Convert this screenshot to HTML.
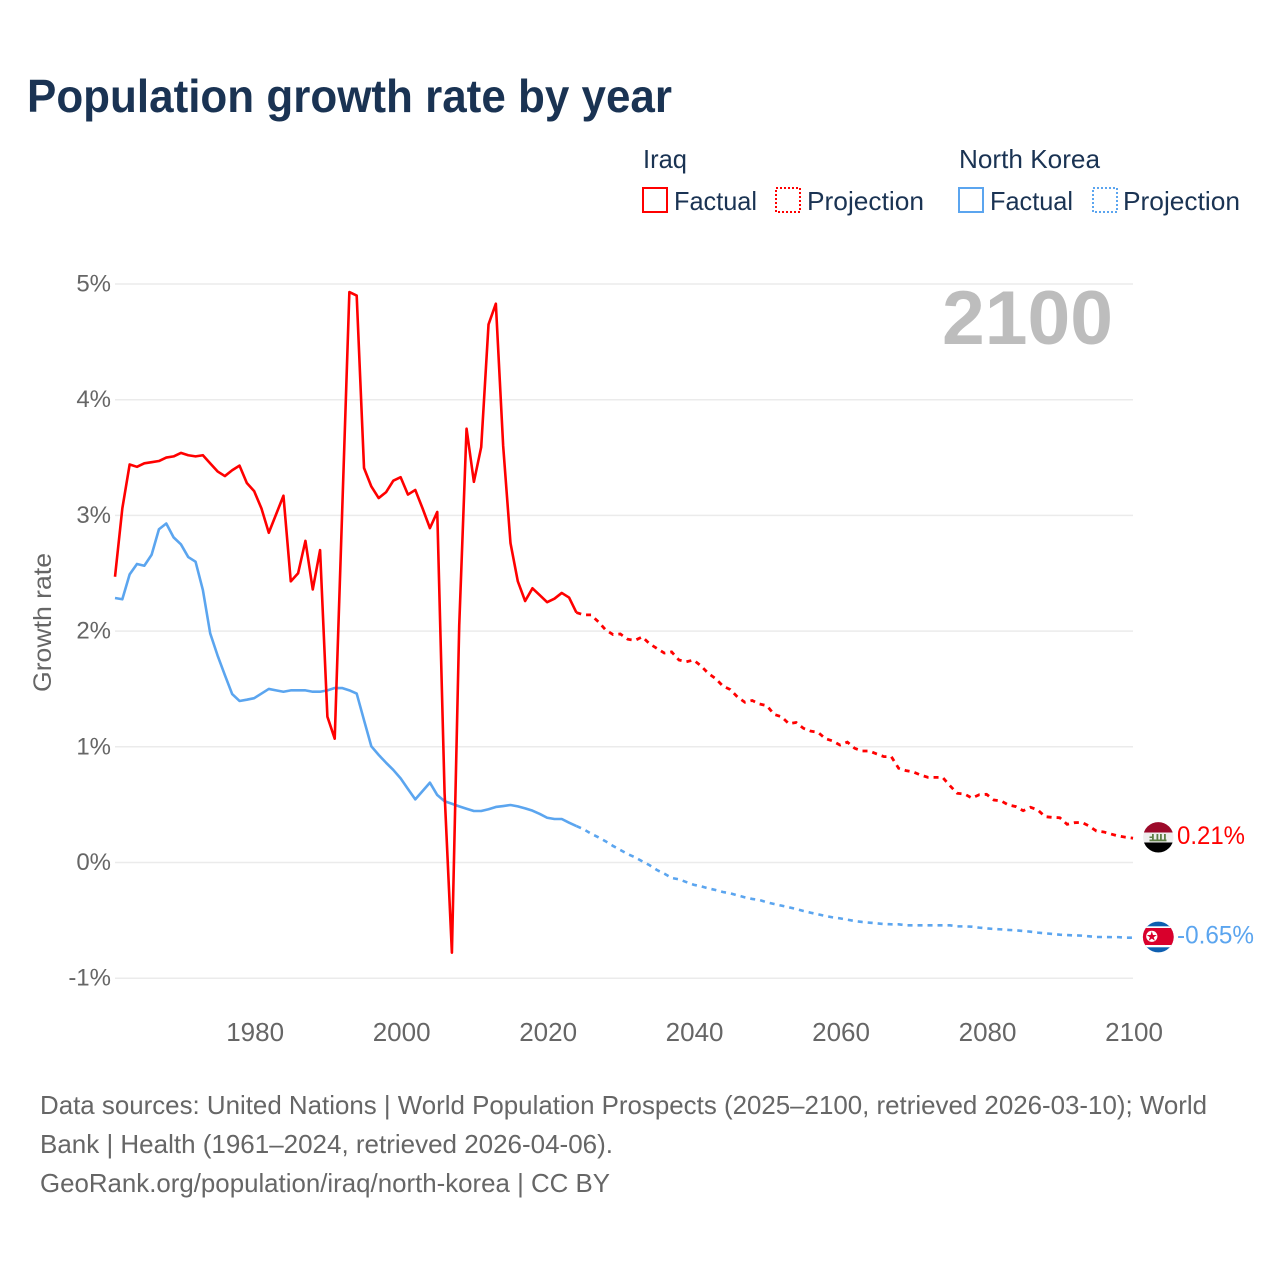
<!DOCTYPE html>
<html lang="en">
<head>
<meta charset="utf-8">
<title>Population growth rate by year</title>
<style>
  html, body { margin: 0; padding: 0; background: #fff; }
  svg { display: block; }
  text { font-family: "Liberation Sans", sans-serif; }
</style>
</head>
<body>
<svg id="chart" xmlns="http://www.w3.org/2000/svg" width="1280" height="1280" viewBox="0 0 1280 1280">
  <rect width="1280" height="1280" fill="#ffffff"/>
  <text x="27" y="112" font-size="46" font-weight="700" fill="#1a3353" textLength="645" lengthAdjust="spacingAndGlyphs">Population growth rate by year</text>

  <g font-size="26" fill="#1a3353">
    <text x="643" y="168" textLength="44" lengthAdjust="spacingAndGlyphs">Iraq</text>
    <text x="959" y="168" textLength="141" lengthAdjust="spacingAndGlyphs">North Korea</text>
    <g>
      <rect x="643" y="188" width="24" height="24" fill="none" stroke="#ff0000" stroke-width="2"/>
      <text x="674" y="210" textLength="83" lengthAdjust="spacingAndGlyphs">Factual</text>
    </g>
    <g>
      <rect x="776" y="188" width="24" height="24" fill="none" stroke="#ff0000" stroke-width="2" stroke-dasharray="2 2"/>
      <text x="807" y="210" textLength="117" lengthAdjust="spacingAndGlyphs">Projection</text>
    </g>
    <g>
      <rect x="959" y="188" width="24" height="24" fill="none" stroke="#5ba5ef" stroke-width="2"/>
      <text x="990" y="210" textLength="83" lengthAdjust="spacingAndGlyphs">Factual</text>
    </g>
    <g>
      <rect x="1093" y="188" width="24" height="24" fill="none" stroke="#5ba5ef" stroke-width="2" stroke-dasharray="2 2"/>
      <text x="1123" y="210" textLength="117" lengthAdjust="spacingAndGlyphs">Projection</text>
    </g>
  </g>

  <g id="grid"></g>
  <g id="yTicksGroup"></g>
  <g id="xTicksGroup"></g>

  <text transform="translate(51,622.5) rotate(-90)" text-anchor="middle" font-size="25" fill="#666666" textLength="139" lengthAdjust="spacingAndGlyphs">Growth rate</text>
  <text x="942" y="344" font-size="76" font-weight="700" fill="#bdbdbd" textLength="171" lengthAdjust="spacingAndGlyphs">2100</text>

  <g id="series"></g>

  <defs>
    <clipPath id="clip-iraq"><circle cx="1158.3" cy="837.3" r="15.2"/></clipPath>
    <clipPath id="clip-nk"><circle cx="1158.3" cy="937" r="15.4"/></clipPath>
  </defs>

  <g clip-path="url(#clip-iraq)">
    <rect x="1142" y="821" width="32" height="11.5" fill="#9c0a2a"/>
    <rect x="1142" y="832.5" width="32" height="10" fill="#eeeeee"/>
    <rect x="1142" y="842.5" width="32" height="11" fill="#000000"/>
    <g fill="#5f7f45">
      <rect x="1149.5" y="839.5" width="17" height="1.8"/>
      <rect x="1152" y="834" width="1.8" height="6.5"/>
      <rect x="1156.5" y="834" width="1.8" height="6.5"/>
      <rect x="1160" y="834" width="1.8" height="6.5"/>
      <rect x="1164" y="834" width="1.8" height="6.5"/>
      <rect x="1149.5" y="836.5" width="4" height="1.5"/>
    </g>
  </g>
  <g clip-path="url(#clip-nk)">
    <rect x="1142" y="921" width="32" height="32" fill="#0e5fb0"/>
    <rect x="1142" y="926.3" width="32" height="21" fill="#ffffff"/>
    <rect x="1142" y="928" width="32" height="17" fill="#d9002c"/>
    <circle cx="1151.8" cy="936.3" r="5.6" fill="#ffffff"/>
    <polygon points="1151.8,931.3 1153,935 1156.8,935 1153.7,937.2 1154.9,940.8 1151.8,938.6 1148.7,940.8 1149.9,937.2 1146.8,935 1150.6,935" fill="#d9002c"/>
  </g>

  <g id="endLabels"></g>

  <g font-size="26" fill="#666666">
    <text x="40" y="1114" textLength="1167" lengthAdjust="spacingAndGlyphs">Data sources: United Nations | World Population Prospects (2025–2100, retrieved 2026-03-10); World</text>
    <text x="40" y="1153" textLength="573" lengthAdjust="spacingAndGlyphs">Bank | Health (1961–2024, retrieved 2026-04-06).</text>
    <text x="40" y="1192" textLength="570" lengthAdjust="spacingAndGlyphs">GeoRank.org/population/iraq/north-korea | CC BY</text>
  </g>
</svg>

<script>
const xTickYears = [1980, 2000, 2020, 2040, 2060, 2080, 2100];
const yTickValues = [5, 4, 3, 2, 1, 0, -1];

const factualStartYear = 1961;
const projectionStartYear = 2024;

const iraqFactual = [
  2.47,3.06,3.44,3.42,3.45,3.46,3.47,3.50,3.51,3.54,
  3.52,3.51,3.52,3.45,3.38,3.34,3.39,3.43,3.28,3.21,
  3.06,2.85,3.01,3.17,2.43,2.50,2.78,2.36,2.70,1.26,
  1.07,3.0,4.93,4.90,3.41,3.25,3.15,3.20,3.30,3.33,
  3.18,3.22,3.06,2.89,3.03,0.6,-0.78,2.05,3.75,3.29,
  3.59,4.65,4.83,3.6,2.76,2.43,2.26,2.37,2.31,2.25,
  2.28,2.33,2.29,2.16
];
const iraqProjection = [
  2.16,2.14,2.14,2.08,2.01,1.97,1.975,1.93,1.92,1.95,
  1.89,1.85,1.81,1.82,1.75,1.735,1.75,1.70,1.635,1.59,
  1.525,1.495,1.43,1.385,1.40,1.37,1.355,1.28,1.26,1.20,
  1.21,1.16,1.135,1.125,1.07,1.05,1.015,1.04,.987,.964,
  .964,.938,.915,.915,.814,.794,.782,.756,.736,.736,
  .736,.664,.598,.592,.557,.586,.589,.54,.532,.497,
  .483,.448,.477,.454,.396,.39,.387,.33,.344,.347,
  .315,.272,.264,.246,.229,.218,.21
];
const northKoreaFactual = [
  2.286,2.275,2.49,2.58,2.565,2.66,2.88,2.93,2.81,2.75,
  2.64,2.60,2.355,1.98,1.79,1.62,1.456,1.396,1.407,1.42,
  1.46,1.50,1.488,1.476,1.488,1.488,1.488,1.476,1.476,1.488,
  1.508,1.508,1.488,1.46,1.23,1.004,.93,.863,.80,.727,
  .635,.546,.618,.69,.583,.529,.508,.485,.465,.445,
  .445,.46,.48,.488,.497,.485,.468,.448,.42,.387,
  .376,.376,.344,.315
];
const northKoreaProjection = [
  .315,.287,.249,.218,.183,.143,.108,.073,.045,.01,
  -.024,-.065,-.0965,-.134,-.145,-.169,-.192,-.206,-.223,-.238,
  -.255,-.266,-.284,-.301,-.315,-.324,-.344,-.359,-.373,-.387,
  -.402,-.419,-.434,-.448,-.462,-.474,-.483,-.494,-.506,-.514,
  -.52,-.526,-.532,-.534,-.534,-.543,-.543,-.543,-.543,-.543,
  -.543,-.543,-.552,-.552,-.555,-.563,-.569,-.575,-.578,-.583,
  -.586,-.592,-.598,-.606,-.612,-.618,-.624,-.627,-.63,-.632,
  -.638,-.644,-.644,-.645,-.645,-.65,-.65
];

const SVG_NS = 'http://www.w3.org/2000/svg';
const RED = '#ff0000';
const BLUE = '#5ba5ef';

function xScale(year) { return 115 + (year - 1961) * 7.324; }
function yScale(value) { return 862.5 - value * 115.7; }

function buildPath(values, startYear) {
  return values.map(function (v, i) {
    return (i ? 'L' : 'M') + xScale(startYear + i).toFixed(2) + ' ' + yScale(v).toFixed(2);
  }).join(' ');
}

const gridGroup = document.getElementById('grid');
const yGroup = document.getElementById('yTicksGroup');
yTickValues.forEach(function (v) {
  const line = document.createElementNS(SVG_NS, 'line');
  
  
  line.setAttribute('x1', 115);
  line.setAttribute('x2', 1133);
  line.setAttribute('y1', yScale(v));
  line.setAttribute('y2', yScale(v));
  line.setAttribute('stroke', '#ebebeb');
  line.setAttribute('stroke-width', 1.5);
  gridGroup.appendChild(line);

  const label = document.createElementNS(SVG_NS, 'text');
  
  
  label.setAttribute('x', 111);
  label.setAttribute('y', yScale(v) + 7.5);
  label.setAttribute('text-anchor', 'end');
  label.setAttribute('font-size', 24);
  label.setAttribute('fill', '#666666');
  label.textContent = v + '%';
  yGroup.appendChild(label);
});

const xGroup = document.getElementById('xTicksGroup');
xTickYears.forEach(function (year) {
  const label = document.createElementNS(SVG_NS, 'text');
  
  
  label.setAttribute('x', xScale(year) + 1);
  label.setAttribute('y', 1041);
  label.setAttribute('text-anchor', 'middle');
  label.setAttribute('font-size', 26);
  label.setAttribute('fill', '#666666');
  label.textContent = year;
  xGroup.appendChild(label);
});

const seriesGroup = document.getElementById('series');

const nkFactualLine = document.createElementNS(SVG_NS, 'path');


nkFactualLine.setAttribute('d', buildPath(northKoreaFactual, factualStartYear));
nkFactualLine.setAttribute('fill', 'none');
nkFactualLine.setAttribute('stroke', BLUE);
nkFactualLine.setAttribute('stroke-width', 2.6);
nkFactualLine.setAttribute('stroke-linejoin', 'round');
seriesGroup.appendChild(nkFactualLine);

const nkProjectionLine = document.createElementNS(SVG_NS, 'path');


nkProjectionLine.setAttribute('d', buildPath(northKoreaProjection, projectionStartYear));
nkProjectionLine.setAttribute('fill', 'none');
nkProjectionLine.setAttribute('stroke', BLUE);
nkProjectionLine.setAttribute('stroke-width', 2.6);
nkProjectionLine.setAttribute('stroke-dasharray', '5 5');
seriesGroup.appendChild(nkProjectionLine);

const iraqFactualLine = document.createElementNS(SVG_NS, 'path');


iraqFactualLine.setAttribute('d', buildPath(iraqFactual, factualStartYear));
iraqFactualLine.setAttribute('fill', 'none');
iraqFactualLine.setAttribute('stroke', RED);
iraqFactualLine.setAttribute('stroke-width', 2.6);
iraqFactualLine.setAttribute('stroke-linejoin', 'round');
seriesGroup.appendChild(iraqFactualLine);

const iraqProjectionLine = document.createElementNS(SVG_NS, 'path');


iraqProjectionLine.setAttribute('d', buildPath(iraqProjection, projectionStartYear));
iraqProjectionLine.setAttribute('fill', 'none');
iraqProjectionLine.setAttribute('stroke', RED);
iraqProjectionLine.setAttribute('stroke-width', 2.8);
iraqProjectionLine.setAttribute('stroke-dasharray', '5 5');
seriesGroup.appendChild(iraqProjectionLine);

const labelGroup = document.getElementById('endLabels');

const iraqEnd = iraqProjection[iraqProjection.length - 1];
const iraqEndLabel = document.createElementNS(SVG_NS, 'text');


iraqEndLabel.setAttribute('x', 1177);
iraqEndLabel.setAttribute('y', yScale(iraqEnd) + 6);
iraqEndLabel.setAttribute('font-size', 25);
iraqEndLabel.setAttribute('fill', RED);
iraqEndLabel.setAttribute('textLength', 68);
iraqEndLabel.setAttribute('lengthAdjust', 'spacingAndGlyphs');
iraqEndLabel.textContent = iraqEnd.toFixed(2) + '%';
labelGroup.appendChild(iraqEndLabel);

const nkEnd = northKoreaProjection[northKoreaProjection.length - 1];
const nkEndLabel = document.createElementNS(SVG_NS, 'text');


nkEndLabel.setAttribute('x', 1177);
nkEndLabel.setAttribute('y', yScale(nkEnd) + 6);
nkEndLabel.setAttribute('font-size', 25);
nkEndLabel.setAttribute('fill', BLUE);
nkEndLabel.setAttribute('textLength', 77);
nkEndLabel.setAttribute('lengthAdjust', 'spacingAndGlyphs');
nkEndLabel.textContent = nkEnd.toFixed(2) + '%';
labelGroup.appendChild(nkEndLabel);
</script>
</body>
</html>
